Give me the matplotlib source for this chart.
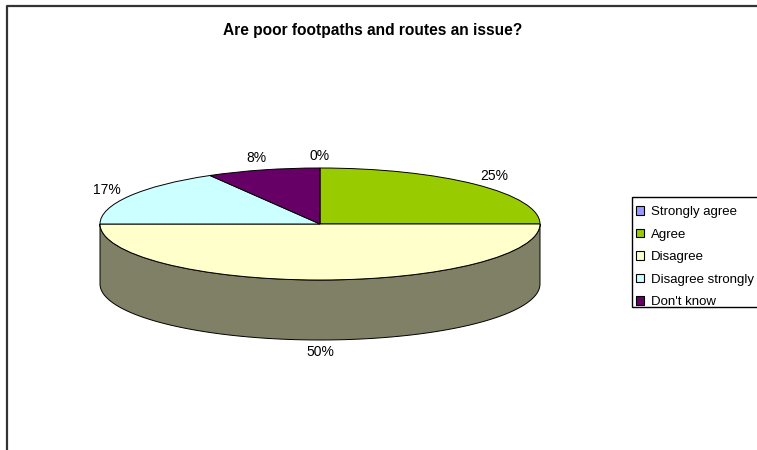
import numpy as np
import matplotlib
matplotlib.use("Agg")
import matplotlib.pyplot as plt
from matplotlib.patches import Patch, Polygon, Rectangle
from matplotlib.lines import Line2D
from matplotlib.colors import to_rgb

# Survey answers (counts)
categories = ["Strongly agree", "Agree", "Disagree", "Disagree strongly", "Don't know"]
counts = [0, 3, 6, 2, 1]
colors = ["#9999FF", "#99CC00", "#FFFFCC", "#CCFFFF", "#660066"]
title = "Are poor footpaths and routes an issue?"

plt.rcParams['font.family'] = ['Liberation Sans', 'DejaVu Sans']

W, H = 757, 450
fig = plt.figure(figsize=(W / 100, H / 100), dpi=100)

# pie axes spans the whole figure, stretched so the unit circle becomes the tilted disc
cx, cy = 320, 224      # centre of top face (pixels from left / top)
rx, ry = 220, 56       # radii in pixels
depth = 60 / ry        # thickness of the disc in data units
ax = fig.add_axes([0, 0, 1, 1])

wedges, _ = ax.pie(counts, colors=colors, startangle=90, counterclock=False,
                   radius=1, wedgeprops=dict(edgecolor="black", linewidth=0.7))
for w in wedges:
    w.set_zorder(3)

ax.set_aspect("auto")
ax.set_xlim(-cx / rx, (W - cx) / rx)
ax.set_ylim(-(H - cy) / ry, cy / ry)
ax.axis("off")

# side walls of the visible (front) half
for w, col in zip(wedges, colors):
    t1, t2 = w.theta1, w.theta2
    dark = tuple(c * 0.5 for c in to_rgb(col))
    for lo, hi in [(-180, 0), (180, 360), (540, 720)]:
        a, b = max(t1, lo), min(t2, hi)
        if b <= a:
            continue
        th = np.radians(np.linspace(a, b, 100))
        top = np.column_stack([np.cos(th), np.sin(th)])
        bot = top[::-1] - [0, depth]
        ax.add_patch(Polygon(np.vstack([top, bot]), closed=True, facecolor=dark,
                             edgecolor="black", linewidth=0.7, zorder=2))

# percentage labels
total = sum(counts)
for w, n in zip(wedges, counts):
    mid = np.radians((w.theta1 + w.theta2) / 2)
    x = 1.12 * np.cos(mid)
    y = 1.22 * np.sin(mid)
    if np.sin(mid) < -0.05:
        y -= depth
    ax.text(x, y, f"{round(100 * n / total)}%", ha="center", va="center",
            fontsize=10, zorder=5)

# title
fig.text(373 / W, 1 - 31 / H, title, ha="center", va="center",
         fontsize=11.2, fontweight="bold")

# chart area border (left and top visible)
fig.add_artist(Line2D([7 / W, 7 / W, 1], [0, 1 - 6 / H, 1 - 6 / H],
                      transform=fig.transFigure, color="#333333", linewidth=1.6))

# legend
lx, ltop, lbot = 632, 197, 307
fig.add_artist(Rectangle((lx / W, 1 - lbot / H), (W - lx + 10) / W, (lbot - ltop) / H,
                         transform=fig.transFigure, facecolor="white",
                         edgecolor="black", linewidth=1.0))
handles = [Patch(facecolor=c, edgecolor="black", linewidth=0.8) for c in colors]
fig.legend(handles, categories, loc="upper left",
           bbox_to_anchor=(lx / W, 1 - (ltop + 5) / H),
           frameon=False, fontsize=9.5, handlelength=0.62, handleheight=0.62,
           handletextpad=0.5, labelspacing=0.8, borderpad=0.3,
           borderaxespad=0)

fig.savefig("out.png", dpi=100)
